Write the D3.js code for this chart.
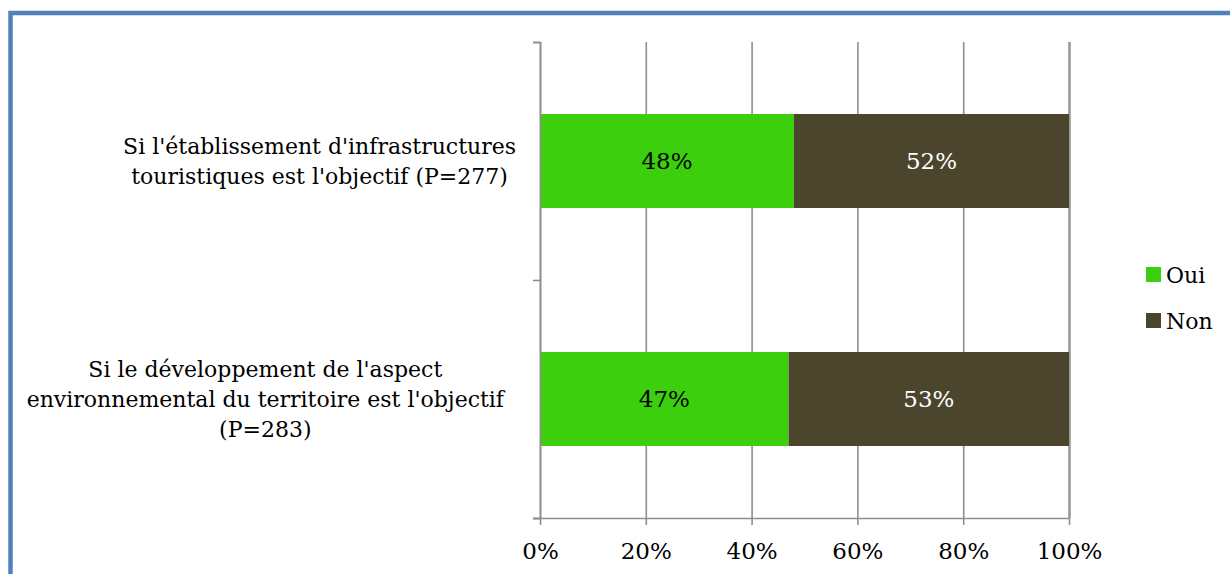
<!DOCTYPE html>
<html>
<head>
<meta charset="utf-8">
<script src="https://cdn.jsdelivr.net/npm/d3@7"></script>
<style>
  body { margin: 0; background: #fff; }
  svg { display: block; }
</style>
</head>
<body>
<div id="chart"></div>
<script>
// chart data
const categories = ["infra", "env"];
const categoryLines = [
  ["Si l'établissement d'infrastructures", "touristiques est l'objectif (P=277)"],
  ["Si le développement de l'aspect", "environnemental du territoire est l'objectif", "(P=283)"]
];
const seriesNames = ["Oui", "Non"];
const ouiValues = [48, 47];
const nonValues = [52, 53];
const seriesColors = ["#3ccf0d", "#4c452e"];
const labelColors = ["#000", "#fff"];
const xTickValues = [0, 20, 40, 60, 80, 100];

const width = 1230, height = 574;
const fontFamily = "DejaVu Serif";
const fontSize = 22;
const numSize = 23;

const svg = d3.select("#chart").append("svg")
  .attr("width", width)
  .attr("height", height)
  .style("font-family", fontFamily);

// blue frame around the chart
svg.append("rect")
  .attr("x", 10.5).attr("y", 13)
  .attr("width", 1260).attr("height", 600)
  .attr("fill", "none")
  .attr("stroke", "#4f81bd")
  .attr("stroke-width", 4.5);

const plotLeft = 540, plotRight = 1069, plotTop = 42, plotBottom = 518;

const x = d3.scaleLinear().domain([0, 100]).range([plotLeft, plotRight]);
const y = d3.scaleBand().domain(categories)
  .range([plotTop, plotBottom])
  .paddingInner(0.605)
  .paddingOuter(0.3025);

// gridlines (behind the bars)
const grid = svg.append("g")
  .attr("transform", `translate(0,${plotBottom})`)
  .call(d3.axisBottom(x).tickValues(xTickValues).tickSize(-(plotBottom - plotTop)).tickFormat(""));
grid.select(".domain").remove();
grid.selectAll("line").attr("stroke", "#8e8e8e").attr("stroke-width", 1.6);
grid.selectAll(".tick").filter(d => d === 100).select("line").attr("stroke-width", 2.6).attr("stroke", "#999");

// stacked bars
const stacked = categories.map((c, i) => {
  const vals = [ouiValues[i], nonValues[i]];
  let acc = 0;
  return vals.map((v, s) => {
    const seg = { cat: c, series: s, x0: acc, x1: acc + v, v: v };
    acc += v;
    return seg;
  });
}).flat();

const bars = svg.append("g");
bars.selectAll("rect")
  .data(stacked)
  .join("rect")
  .attr("x", d => x(d.x0))
  .attr("y", d => y(d.cat))
  .attr("width", d => x(d.x1) - x(d.x0))
  .attr("height", y.bandwidth())
  .attr("fill", d => seriesColors[d.series]);

bars.selectAll("text")
  .data(stacked)
  .join("text")
  .attr("x", d => (x(d.x0) + x(d.x1)) / 2)
  .attr("y", d => y(d.cat) + y.bandwidth() / 2)
  .attr("dy", "0.35em")
  .attr("text-anchor", "middle")
  .style("font-family", fontFamily)
  .style("font-size", numSize + "px")
  .attr("fill", d => labelColors[d.series])
  .text(d => d.v + "%");

// x axis
const xAxis = svg.append("g")
  .attr("transform", `translate(0,${plotBottom})`)
  .call(d3.axisBottom(x).tickValues(xTickValues).tickSize(7).tickPadding(18).tickFormat(d => d + "%"));
xAxis.attr("font-family", null).attr("font-size", null);
xAxis.select(".domain").attr("d", `M${plotLeft - 7},0.5H${plotRight}`).attr("stroke", "#8e8e8e").attr("stroke-width", 1.6);
xAxis.selectAll("line").attr("stroke", "#8e8e8e").attr("stroke-width", 1.6);
xAxis.selectAll("text")
  .style("font-family", fontFamily)
  .style("font-size", numSize + "px")
  .attr("fill", "#000");

// y axis (ticks between categories)
const yEdge = d3.scaleLinear().domain([0, categories.length]).range([plotTop, plotBottom]);
const yAxis = svg.append("g")
  .attr("transform", `translate(${plotLeft},0)`)
  .call(d3.axisLeft(yEdge).ticks(categories.length).tickSize(7).tickFormat(""));
yAxis.selectAll("path, line").attr("stroke", "#8e8e8e").attr("stroke-width", 1.6);

// category labels
const lineHeight = 30;
const catLabels = svg.append("g");
categories.forEach((c, i) => {
  const lines = categoryLines[i];
  const g = catLabels.append("g");
  const t = g.append("text")
    .attr("text-anchor", "middle")
    .style("font-family", fontFamily)
    .style("font-size", fontSize + "px")
    .attr("fill", "#000");
  const cy = y(c) + y.bandwidth() / 2;
  const firstBaseline = cy - (lines.length - 1) * lineHeight / 2 + 8;
  lines.forEach((ln, k) => {
    t.append("tspan").attr("x", 0).attr("y", firstBaseline + k * lineHeight).text(ln);
  });
  let maxW = 0;
  t.selectAll("tspan").each(function () { maxW = Math.max(maxW, this.getComputedTextLength()); });
  // the wider label sits a little further from the axis, as in the source
  const gap = maxW > 440 ? 36 : 24;
  g.attr("transform", `translate(${plotLeft - gap - maxW / 2},0)`);
});

// legend
const legend = svg.append("g").attr("transform", "translate(1146,267)");
seriesNames.forEach((s, i) => {
  const row = legend.append("g").attr("transform", `translate(0,${i * 46})`);
  row.append("rect").attr("width", 15).attr("height", 15).attr("fill", seriesColors[i]);
  row.append("text")
    .attr("x", 20).attr("y", 16)
    .style("font-family", fontFamily)
    .style("font-size", fontSize + "px")
    .attr("fill", "#000")
    .text(s);
});
</script>
</body>
</html>
